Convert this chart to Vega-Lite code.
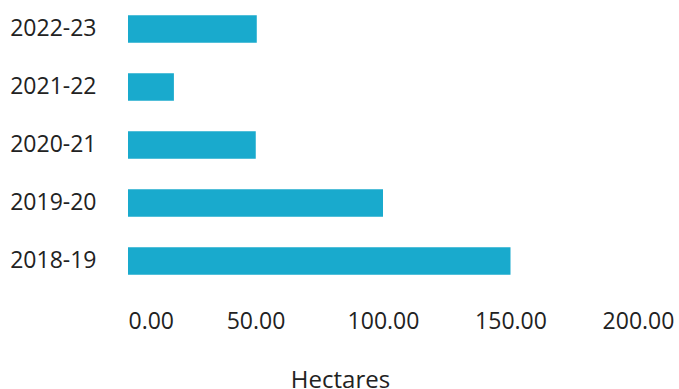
{
  "$schema": "https://vega.github.io/schema/vega-lite/v6.json",
  "width": 510,
  "height": 290,
  "autosize": "none",
  "padding": {"left": 128, "top": 0, "right": 41, "bottom": 99},
  "background": "white",
  "data": {"values": [
    {"year": "2018-19", "hectares": 150},
    {"year": "2019-20", "hectares": 100},
    {"year": "2020-21", "hectares": 50.1},
    {"year": "2021-22", "hectares": 18},
    {"year": "2022-23", "hectares": 50.5}
  ]},
  "mark": {"type": "bar", "color": "#19AACD"},
  "encoding": {
    "y": {
      "field": "year", "type": "nominal", "sort": "descending",
      "scale": {"paddingInner": 0.53, "paddingOuter": 0.265},
      "axis": {"title": null, "domain": false, "ticks": false, "labelPadding": 32,
        "labelFont": "Open Sans", "labelFontSize": 23, "labelColor": "#222222"}
    },
    "x": {
      "field": "hectares", "type": "quantitative",
      "scale": {"domain": [0, 200], "nice": false},
      "axis": {"title": "Hectares", "format": ".2f", "values": [0, 50, 100, 150, 200],
        "grid": false, "domain": false, "ticks": false, "labelPadding": 20,
        "labelFont": "Open Sans", "labelFontSize": 23, "labelColor": "#222222",
        "labelAlign": {"expr": "datum.value === 0 ? 'left' : 'center'"}, "labelDx": 2,
        "labelFlush": false, "labelOverlap": false,
        "titleFont": "Open Sans", "titleFontSize": 24, "titleFontWeight": "normal", "titleColor": "#222222",
        "titleX": 212, "titleY": 97, "titleAlign": "center", "titleBaseline": "alphabetic"}
    }
  },
  "config": {"view": {"stroke": null}}
}
